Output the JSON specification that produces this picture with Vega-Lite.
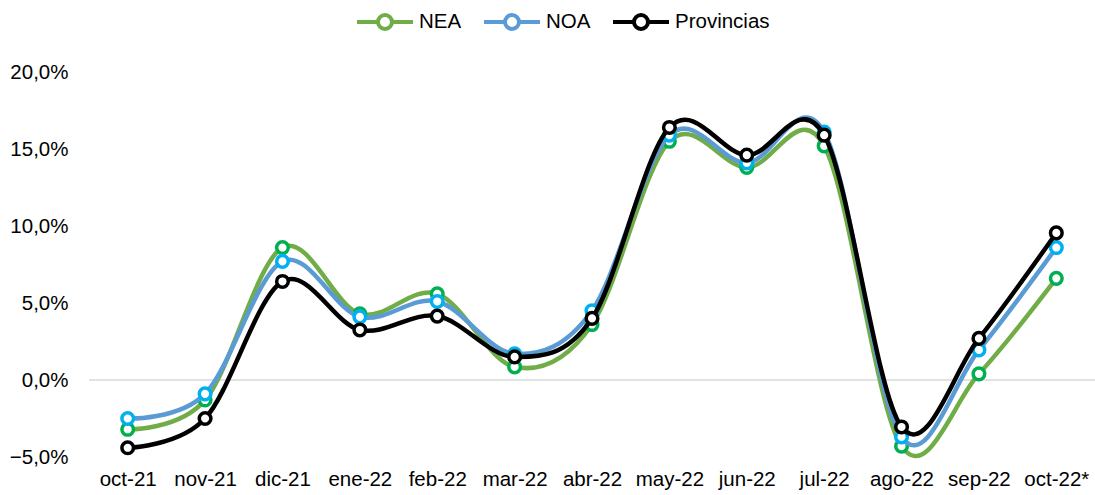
{
  "$schema": "https://vega.github.io/schema/vega-lite/v6.json",
  "width": 1006,
  "height": 385,
  "autosize": {"type": "none"},
  "padding": {"left": 89, "top": 72, "right": 0, "bottom": 38},
  "config": {
    "view": {"stroke": null},
    "font": "Liberation Sans",
    "axis": {"labelFont": "Liberation Sans", "labelFontSize": 20.5, "labelColor": "#000000"},
    "legend": {"labelFont": "Liberation Sans", "labelFontSize": 20.5, "labelColor": "#000000"}
  },
  "data": {
    "values": [
      {"mes": "oct-21", "serie": "NEA", "valor": -3.2},
      {"mes": "nov-21", "serie": "NEA", "valor": -1.3},
      {"mes": "dic-21", "serie": "NEA", "valor": 8.6},
      {"mes": "ene-22", "serie": "NEA", "valor": 4.3},
      {"mes": "feb-22", "serie": "NEA", "valor": 5.6},
      {"mes": "mar-22", "serie": "NEA", "valor": 0.85},
      {"mes": "abr-22", "serie": "NEA", "valor": 3.6},
      {"mes": "may-22", "serie": "NEA", "valor": 15.5},
      {"mes": "jun-22", "serie": "NEA", "valor": 13.8},
      {"mes": "jul-22", "serie": "NEA", "valor": 15.2},
      {"mes": "ago-22", "serie": "NEA", "valor": -4.3},
      {"mes": "sep-22", "serie": "NEA", "valor": 0.4},
      {"mes": "oct-22*", "serie": "NEA", "valor": 6.6},
      {"mes": "oct-21", "serie": "NOA", "valor": -2.5},
      {"mes": "nov-21", "serie": "NOA", "valor": -0.9},
      {"mes": "dic-21", "serie": "NOA", "valor": 7.7},
      {"mes": "ene-22", "serie": "NOA", "valor": 4.1},
      {"mes": "feb-22", "serie": "NOA", "valor": 5.1},
      {"mes": "mar-22", "serie": "NOA", "valor": 1.7},
      {"mes": "abr-22", "serie": "NOA", "valor": 4.5},
      {"mes": "may-22", "serie": "NOA", "valor": 15.9},
      {"mes": "jun-22", "serie": "NOA", "valor": 14.1},
      {"mes": "jul-22", "serie": "NOA", "valor": 16.1},
      {"mes": "ago-22", "serie": "NOA", "valor": -3.7},
      {"mes": "sep-22", "serie": "NOA", "valor": 1.95},
      {"mes": "oct-22*", "serie": "NOA", "valor": 8.6},
      {"mes": "oct-21", "serie": "Provincias", "valor": -4.4},
      {"mes": "nov-21", "serie": "Provincias", "valor": -2.5},
      {"mes": "dic-21", "serie": "Provincias", "valor": 6.4},
      {"mes": "ene-22", "serie": "Provincias", "valor": 3.25},
      {"mes": "feb-22", "serie": "Provincias", "valor": 4.15},
      {"mes": "mar-22", "serie": "Provincias", "valor": 1.5},
      {"mes": "abr-22", "serie": "Provincias", "valor": 4.0},
      {"mes": "may-22", "serie": "Provincias", "valor": 16.4},
      {"mes": "jun-22", "serie": "Provincias", "valor": 14.6},
      {"mes": "jul-22", "serie": "Provincias", "valor": 15.9},
      {"mes": "ago-22", "serie": "Provincias", "valor": -3.05},
      {"mes": "sep-22", "serie": "Provincias", "valor": 2.7},
      {"mes": "oct-22*", "serie": "Provincias", "valor": 9.55}
    ]
  },
  "layer": [
    {
      "data": {"values": [{}]},
      "mark": {"type": "rule", "color": "#D9D9D9", "strokeWidth": 1.5},
      "encoding": {
        "y": {"datum": 0, "type": "quantitative", "scale": {"domain": [-5, 20], "nice": false, "zero": false},
          "axis": {"values": [-5, 0, 5, 10, 15, 20], "labelExpr": "replace(format(datum.value, '.1f'), '.', ',') + '%'", "domain": false, "ticks": false, "tickSize": 0, "grid": false, "labelPadding": 21, "title": null}}
      }
    },
    {
      "transform": [{"filter": "datum.serie === 'NEA'"}],
      "mark": {"type": "line", "interpolate": "cardinal", "strokeWidth": 4.5},
      "encoding": {
        "x": {"field": "mes", "type": "ordinal", "sort": ["oct-21","nov-21","dic-21","ene-22","feb-22","mar-22","abr-22","may-22","jun-22","jul-22","ago-22","sep-22","oct-22*"], "scale": {"type": "point", "padding": 0.5},
          "axis": {"domain": false, "ticks": false, "tickSize": 0, "labelAngle": 0, "labelPadding": 12, "title": null}},
        "y": {"field": "valor", "type": "quantitative"},
        "color": {"field": "serie", "type": "nominal", "scale": {"domain": ["NEA", "NOA", "Provincias"], "range": ["#70AD47", "#5B9BD5", "#000000"]},
          "legend": {"title": null, "orient": "none", "direction": "horizontal", "legendX": 266, "legendY": -80, "padding": 0, "columnPadding": 14, "labelOffset": 4, "symbolType": "M-1,0H-0.25M0.25,0H1M0.25,0A0.25,0.25,0,1,1,-0.25,0A0.25,0.25,0,1,1,0.25,0Z", "symbolSize": 3136, "symbolStrokeWidth": 4, "symbolFillColor": "white", "symbolOpacity": 1}}
      }
    },
    {
      "transform": [{"filter": "datum.serie === 'NEA'"}],
      "mark": {"type": "point", "filled": true, "fill": "white", "opacity": 1, "size": 135, "strokeWidth": 3.5},
      "encoding": {
        "x": {"field": "mes", "type": "ordinal", "sort": ["oct-21","nov-21","dic-21","ene-22","feb-22","mar-22","abr-22","may-22","jun-22","jul-22","ago-22","sep-22","oct-22*"]},
        "y": {"field": "valor", "type": "quantitative"},
        "stroke": {"field": "serie", "type": "nominal", "scale": {"domain": ["NEA", "NOA", "Provincias"], "range": ["#00B050", "#00B0F0", "#000000"]}, "legend": null}
      }
    },
    {
      "transform": [{"filter": "datum.serie === 'NOA'"}],
      "mark": {"type": "line", "interpolate": "cardinal", "strokeWidth": 4.5},
      "encoding": {
        "x": {"field": "mes", "type": "ordinal", "sort": ["oct-21","nov-21","dic-21","ene-22","feb-22","mar-22","abr-22","may-22","jun-22","jul-22","ago-22","sep-22","oct-22*"]},
        "y": {"field": "valor", "type": "quantitative"},
        "color": {"field": "serie", "type": "nominal"}
      }
    },
    {
      "transform": [{"filter": "datum.serie === 'NOA'"}],
      "mark": {"type": "point", "filled": true, "fill": "white", "opacity": 1, "size": 135, "strokeWidth": 3.5},
      "encoding": {
        "x": {"field": "mes", "type": "ordinal", "sort": ["oct-21","nov-21","dic-21","ene-22","feb-22","mar-22","abr-22","may-22","jun-22","jul-22","ago-22","sep-22","oct-22*"]},
        "y": {"field": "valor", "type": "quantitative"},
        "stroke": {"field": "serie", "type": "nominal", "legend": null}
      }
    },
    {
      "transform": [{"filter": "datum.serie === 'Provincias'"}],
      "mark": {"type": "line", "interpolate": "cardinal", "strokeWidth": 4.5},
      "encoding": {
        "x": {"field": "mes", "type": "ordinal", "sort": ["oct-21","nov-21","dic-21","ene-22","feb-22","mar-22","abr-22","may-22","jun-22","jul-22","ago-22","sep-22","oct-22*"]},
        "y": {"field": "valor", "type": "quantitative"},
        "color": {"field": "serie", "type": "nominal"}
      }
    },
    {
      "transform": [{"filter": "datum.serie === 'Provincias'"}],
      "mark": {"type": "point", "filled": true, "fill": "white", "opacity": 1, "size": 135, "strokeWidth": 3.5},
      "encoding": {
        "x": {"field": "mes", "type": "ordinal", "sort": ["oct-21","nov-21","dic-21","ene-22","feb-22","mar-22","abr-22","may-22","jun-22","jul-22","ago-22","sep-22","oct-22*"]},
        "y": {"field": "valor", "type": "quantitative"},
        "stroke": {"field": "serie", "type": "nominal", "legend": null}
      }
    }
  ]
}
